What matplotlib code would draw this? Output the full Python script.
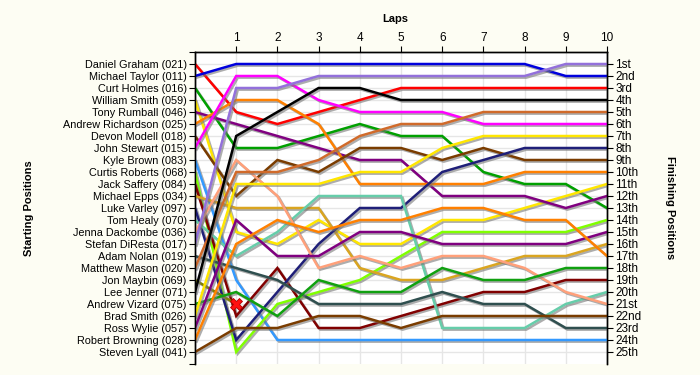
import matplotlib
matplotlib.use("Agg")
import matplotlib.pyplot as plt
import matplotlib.patheffects as pe

plt.rcParams['font.family'] = ['Liberation Sans', 'DejaVu Sans']

# starting grid, top to bottom
starters = ["Daniel Graham (021)", "Michael Taylor (011)", "Curt Holmes (016)",
            "William Smith (059)", "Tony Rumball (046)", "Andrew Richardson (025)",
            "Devon Modell (018)", "John Stewart (015)", "Kyle Brown (083)",
            "Curtis Roberts (068)", "Jack Saffery (084)", "Michael Epps (034)",
            "Luke Varley (097)", "Tom Healy (070)", "Jenna Dackombe (036)",
            "Stefan DiResta (017)", "Adam Nolan (019)", "Matthew Mason (020)",
            "Jon Maybin (069)", "Lee Jenner (071)", "Andrew Vizard (075)",
            "Brad Smith (026)", "Ross Wylie (057)", "Robert Browning (028)",
            "Steven Lyall (041)"]

finish_labels = ["1st", "2nd", "3rd", "4th", "5th", "6th", "7th", "8th", "9th", "10th",
                 "11th", "12th", "13th", "14th", "15th", "16th", "17th", "18th", "19th",
                 "20th", "21st", "22nd", "23rd", "24th", "25th"]

lap_numbers = [0, 1, 2, 3, 4, 5, 6, 7, 8, 9, 10]

# position at each lap (lap 0 = grid)
p_021 = [1, 5, 6, 5, 4, 3, 3, 3, 3, 3, 3]
p_011 = [2, 1, 1, 1, 1, 1, 1, 1, 1, 2, 2]
p_016 = [3, 8, 8, 7, 6, 7, 7, 10, 11, 11, 13]
p_059 = [4, 15, 16, 14, 16, 16, 14, 14, 13, 12, 11]
p_046 = [5, 6, 7, 8, 9, 9, 12, 12, 12, 13, 12]
p_025 = [6, 4, 4, 6, 11, 11, 11, 11, 10, 10, 10]
p_018 = [7, 12, 9, 10, 8, 8, 9, 8, 9, 9, 9]
p_015 = [8, 2, 2, 4, 5, 5, 5, 6, 6, 6, 6]
p_083 = [9, 19, 24, 24, 24, 24, 24, 24, 24, 24, 24]
p_068 = [10, 25, 21, 20, 19, 17, 15, 15, 15, 15, 14]
p_084 = [11, 22, 18, 23, 23, 22, 21, 20, 20, 19, 19]
p_034 = [12, 13, 13, 13, 18, 19, 19, 18, 17, 17, 16]
p_097 = [13, 24, 20, 16, 13, 13, 10, 9, 8, 8, 8]
p_070 = [14, 17, 15, 12, 12, 12, 23, 23, 23, 21, 20]
p_036 = [15, 9, 12, 18, 17, 18, 17, 17, 18, 20, 21]
p_017 = [16, 3, 3, 2, 2, 2, 2, 2, 2, 1, 1]
p_019 = [17, 18, 19, 21, 21, 21, 20, 21, 21, 23, 23]
p_020 = [18, 10, 10, 9, 7, 6, 6, 5, 5, 5, 5]
p_069 = [19, 21]  # retired on lap 1
p_071 = [20, 7, 5, 3, 3, 4, 4, 4, 4, 4, 4]
p_075 = [21, 20, 22, 19, 20, 20, 18, 19, 19, 18, 18]
p_026 = [22, 11, 11, 11, 10, 10, 8, 7, 7, 7, 7]
p_057 = [23, 14, 17, 17, 15, 15, 16, 16, 16, 16, 15]
p_028 = [24, 16, 14, 15, 14, 14, 13, 13, 14, 14, 17]
p_041 = [25, 23, 23, 22, 22, 23, 22, 22, 22, 22, 22]

all_positions = [p_021, p_011, p_016, p_059, p_046, p_025, p_018, p_015, p_083,
                 p_068, p_084, p_034, p_097, p_070, p_036, p_017, p_019, p_020,
                 p_069, p_071, p_075, p_026, p_057, p_028, p_041]

colours = ["#ff0000", "#0000dd", "#00a000", "#ffe600", "#800080", "#ff8000",
           "#7a3c00", "#ff00ff", "#3399ff", "#80ff00", "#800000", "#daa520",
           "#1f1f78", "#66cdaa", "#ffa07a", "#9370db", "#2f4f4f", "#d06a2a",
           "#808000", "#000000", "#10a010", "#ffe600", "#800080", "#ff8000",
           "#7a3c00"]

fig = plt.figure(figsize=(7, 3.75), dpi=100, facecolor="#fdfdf3")
ax = fig.add_axes([195 / 700, 11 / 375, 412 / 700, 312 / 375])
ax.set_facecolor("white")

shadow = [pe.SimpleLineShadow(offset=(1.2, -1.2), shadow_color="#777777", alpha=0.6), pe.Normal()]

for pos, col in zip(all_positions, colours):
    ax.plot(lap_numbers[:len(pos)], pos, color=col, lw=1.8, path_effects=shadow,
            solid_joinstyle="miter", zorder=3)
    if len(pos) < len(lap_numbers):
        ax.plot(lap_numbers[len(pos) - 1], pos[-1], marker="X", ms=8, color="#ff1010",
                mec="#b00000", mew=0.6, zorder=5)

ax.set_xlim(0, 10)
ax.set_ylim(26, 0)

for x in lap_numbers:
    ax.axvline(x, color="#e6e6e6", lw=1, zorder=1)
for y in range(1, 26):
    ax.axhline(y, color="#e6e6e6", lw=1, zorder=1)

ax.xaxis.tick_top()
ax.set_xticks(lap_numbers[1:])
ax.set_xticklabels([str(n) for n in lap_numbers[1:]], fontsize=8.5)
ax.xaxis.set_label_position("top")
ax.set_xlabel("Laps", fontsize=8, fontweight="bold")
ax.xaxis.set_label_coords(0.485, 1.095)

ax.set_yticks(range(0, 27))
ax.set_yticklabels([""] + starters + [""], fontsize=7.8)
ax.set_ylabel("Starting Positions", fontsize=8, fontweight="bold")
ax.yaxis.set_label_coords(-0.39, 0.5)
ax.tick_params(axis="both", direction="out", length=4, width=0.8, pad=2)

ax2 = ax.twinx()
ax2.set_ylim(26, 0)
ax2.set_yticks(range(1, 26))
ax2.set_yticklabels(finish_labels, fontsize=8.5)
ax2.tick_params(axis="y", direction="out", length=4, width=0.8, pad=2)
ax2.set_ylabel("Finishing Positions", fontsize=8, fontweight="bold", rotation=270,
               va="bottom")
ax2.yaxis.set_label_coords(1.14, 0.5)

for a in (ax, ax2):
    a.spines["bottom"].set_visible(False)
    for s in ("left", "top", "right"):
        a.spines[s].set_linewidth(1.0)

plt.savefig("out.png", dpi=100, facecolor=fig.get_facecolor())
